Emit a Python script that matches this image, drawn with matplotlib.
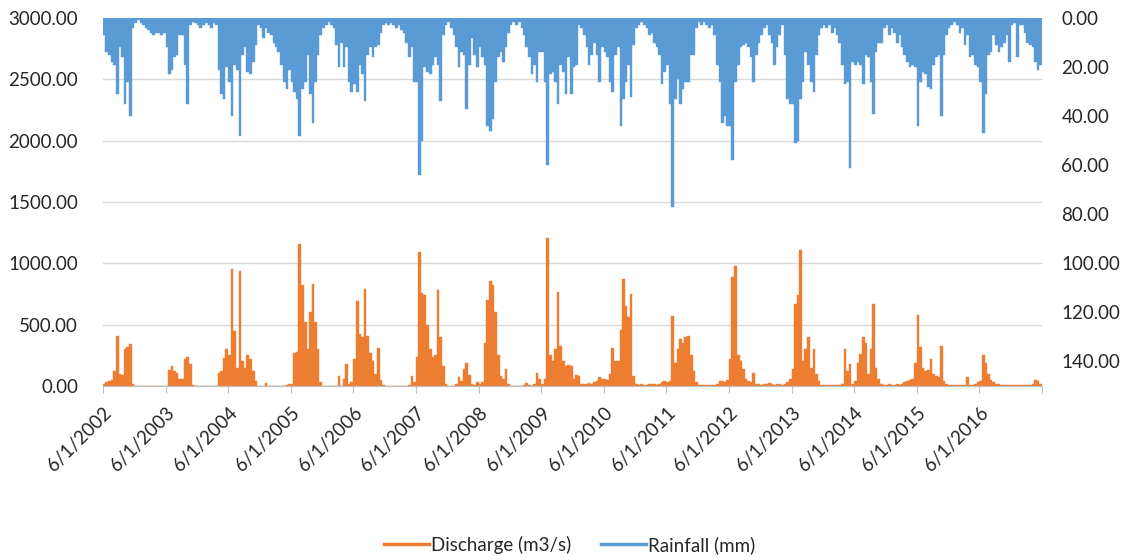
import numpy as np
import pandas as pd
import matplotlib
matplotlib.use("Agg")
from matplotlib import pyplot as plt
import matplotlib.dates as mdates
from matplotlib.lines import Line2D

# semi-monthly values (1st and 15th), June 2002 -> May 2017, one row per hydrological year
rain_mm = [
    # 2002-03
    7, 14, 15, 18, 19, 31, 12, 16, 35, 26, 40, 4, 2, 1, 2, 3, 4, 5, 6, 7, 6, 6, 7, 6,
    # 2003-04
    12, 23, 21, 16, 15, 7, 7, 19, 35, 3, 1.5, 2, 3, 4, 3, 2, 3, 4, 2, 3, 21, 31, 33, 20,
    # 2004-05
    26, 40, 19, 21, 48, 15, 12, 22, 23, 18, 11, 3, 4, 8, 4, 6, 7, 10, 12, 14, 19, 26, 29, 21,
    # 2005-06
    26, 30, 33, 48, 29, 26, 15, 31, 43, 26, 15, 7, 4, 3, 1.5, 3, 4, 11, 20, 10, 20, 12, 26, 30,
    # 2006-07
    27, 30, 19, 23, 34, 15, 12, 16, 12, 11, 6, 3, 2, 3, 2, 3, 4, 3, 5, 6, 10, 16, 12, 26,
    # 2007-08
    26, 64, 50, 20, 22, 23, 19, 16, 19, 34, 7, 3, 1.5, 4, 7, 12, 20, 14, 15, 37, 19, 8, 15, 20,
    # 2008-09
    12, 16, 19, 44, 46, 41, 26, 16, 14, 18, 12, 6, 3, 1.5, 3, 1.5, 4, 7, 12, 16, 23, 19, 26, 14,
    # 2009-10
    14, 26, 60, 23, 22, 26, 35, 19, 22, 31, 16, 31, 20, 19, 3, 4, 7, 12, 19, 15, 10, 15, 26, 12,
    # 2010-11
    14, 16, 26, 30, 15, 12, 44, 33, 26, 19, 32, 11, 4, 3, 1.5, 3, 4, 7, 6, 10, 12, 15, 27, 22,
    # 2011-12
    19, 35, 77, 33, 25, 35, 29, 26, 26, 15, 15, 4, 1.5, 3, 1.5, 3, 4, 3, 7, 19, 26, 43, 40, 44,
    # 2012-13
    44, 58, 26, 19, 12, 11, 10, 12, 16, 26, 15, 10, 7, 4, 3, 7, 10, 19, 12, 7, 3, 15, 33, 35,
    # 2013-14
    35, 51, 50, 33, 26, 14, 19, 26, 30, 15, 7, 4, 3, 4, 3, 6, 4, 7, 10, 19, 27, 26, 61, 18,
    # 2014-15
    19, 18, 19, 27, 15, 16, 26, 39, 14, 10, 10, 4, 3, 7, 4, 6, 10, 7, 12, 15, 18, 20, 19, 20,
    # 2015-16
    44, 26, 22, 23, 28, 29, 19, 16, 15, 40, 15, 7, 4, 3, 1.5, 3, 6, 4, 11, 7, 16, 15, 19, 20,
    # 2016-17
    26, 47, 31, 15, 14, 7, 11, 14, 12, 10, 7, 18, 3, 2, 16, 3, 3, 6, 10, 11, 12, 18, 21, 19,
]

discharge = [
    # 2002-03
    20, 30, 40, 50, 120, 410, 100, 90, 300, 320, 340, 20, 0, 0, 0, 0, 0, 0, 0, 0, 0, 0, 0, 0,
    # 2003-04
    0, 130, 160, 120, 110, 60, 60, 220, 240, 180, 10, 0, 0, 0, 0, 0, 0, 0, 0, 0, 110, 120, 230, 300,
    # 2004-05
    250, 950, 450, 150, 940, 200, 150, 250, 220, 120, 40, 0, 0, 0, 25, 0, 0, 0, 0, 0, 0, 0, 10, 20,
    # 2005-06
    20, 270, 280, 1160, 820, 520, 300, 600, 830, 520, 300, 30, 0, 0, 0, 0, 0, 0, 80, 0, 60, 180, 20, 30,
    # 2006-07
    220, 690, 420, 400, 790, 410, 270, 200, 100, 310, 50, 10, 0, 0, 0, 0, 0, 0, 0, 0, 0, 10, 80, 30,
    # 2007-08
    240, 1090, 760, 740, 500, 300, 240, 250, 780, 400, 160, 20, 0, 0, 0, 20, 70, 40, 140, 190, 90, 20, 10, 30,
    # 2008-09
    20, 30, 350, 700, 860, 820, 600, 250, 80, 60, 140, 20, 0, 0, 0, 0, 0, 10, 25, 10, 0, 20, 110, 60,
    # 2009-10
    20, 60, 1210, 250, 200, 300, 770, 330, 200, 160, 170, 160, 60, 90, 80, 20, 20, 15, 25, 20, 30, 40, 70, 60,
    # 2010-11
    60, 50, 100, 310, 200, 200, 460, 870, 650, 560, 750, 80, 20, 10, 15, 10, 10, 20, 20, 15, 10, 20, 30, 40,
    # 2011-12
    30, 40, 570, 190, 300, 380, 350, 400, 410, 250, 120, 30, 5, 5, 5, 5, 10, 5, 10, 20, 40, 40, 30, 50,
    # 2012-13
    220, 890, 980, 250, 200, 140, 60, 40, 30, 110, 20, 15, 10, 15, 20, 25, 15, 10, 20, 15, 10, 20, 30, 60,
    # 2013-14
    140, 670, 740, 1110, 200, 300, 400, 150, 300, 100, 40, 10, 5, 5, 5, 5, 5, 5, 5, 20, 300, 120, 180, 20,
    # 2014-15
    40, 190, 260, 400, 350, 100, 300, 670, 150, 60, 20, 10, 5, 15, 10, 5, 20, 10, 20, 30, 40, 50, 60, 190,
    # 2015-16
    580, 320, 150, 120, 130, 220, 100, 80, 70, 330, 40, 20, 10, 10, 10, 10, 10, 10, 10, 70, 10, 10, 20, 30,
    # 2016-17
    40, 250, 190, 100, 50, 30, 20, 15, 10, 10, 10, 10, 5, 5, 5, 5, 10, 5, 5, 10, 20, 50, 40, 20,
]

tick_years = list(range(2002, 2018))

orange = "#ED7D31"
blue = "#5B9BD5"
txt = "#262626"

plt.rcParams["font.family"] = ["Lato", "DejaVu Sans"]

dates = pd.date_range("2002-06-01", periods=len(rain_mm), freq="SMS")
x = mdates.date2num(dates)
x_end = mdates.date2num(pd.Timestamp("2017-06-01"))
widths = np.diff(np.append(x, x_end))

fig = plt.figure(figsize=(11.28, 5.6), dpi=100)
ax = fig.add_axes([103 / 1128, 174 / 560, 939 / 1128, 368 / 560])
ax2 = ax.twinx()

ax.bar(x, discharge, width=widths, align="edge", color=orange, edgecolor=orange, linewidth=0.3)
ax2.bar(x, rain_mm, width=widths, align="edge", color=blue, edgecolor=blue, linewidth=0.3)

ax.set_ylim(0, 3000)
ax.set_yticks(np.arange(0, 3001, 500))
ax.set_yticklabels(["%.2f" % v for v in np.arange(0, 3001, 500)])
ax2.set_ylim(150, 0)
ax2.set_yticks(np.arange(0, 141, 20))
ax2.set_yticklabels(["%.2f" % v for v in np.arange(0, 141, 20)])

x0 = mdates.date2num(pd.Timestamp("2002-06-01"))
ax.set_xlim(x0, x_end)

ticks = [mdates.date2num(pd.Timestamp(y, 6, 1)) for y in tick_years]
labels = ["6/1/%d" % y for y in tick_years[:-1]] + [""]
ax.set_xticks(ticks)
ax.set_xticklabels(labels, rotation=45, ha="right", va="top", rotation_mode="anchor")

ax.grid(axis="y", color="#D9D9D9", linewidth=1)
ax.set_axisbelow(True)
for a in (ax, ax2):
    for s in ("top", "left", "right"):
        a.spines[s].set_visible(False)
    a.spines["bottom"].set_color("#BFBFBF")
ax.tick_params(axis="y", length=0, pad=18, labelsize=13.5, labelcolor=txt)
ax2.tick_params(axis="y", length=0, pad=14, labelsize=13.5, labelcolor=txt)
ax.tick_params(axis="x", length=5, color="#BFBFBF", pad=8, labelsize=13.5, labelcolor=txt)

handles = [Line2D([], [], color=orange, lw=2.5), Line2D([], [], color=blue, lw=2.5)]
fig.legend(handles, ["Discharge (m3/s)", "Rainfall (mm)"], loc="center",
           bbox_to_anchor=(0.505, 0.027), ncol=2, frameon=False, fontsize=13.5,
           handlelength=2.4, handletextpad=0.1, columnspacing=1.6, labelcolor=txt)

fig.savefig("out.png", dpi=100, facecolor="white")
